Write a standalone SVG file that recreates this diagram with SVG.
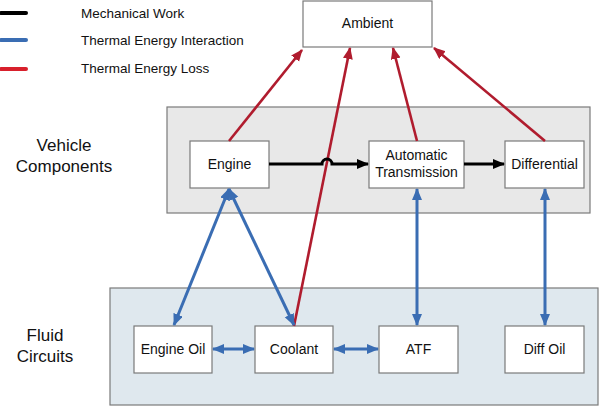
<svg xmlns="http://www.w3.org/2000/svg" width="601" height="406" viewBox="0 0 601 406">
<style>
text{font-family:"Liberation Sans",Arial,sans-serif;font-size:14px;fill:#111}
.leg{font-size:13.5px}
.lbl{font-size:17px}
.node rect{fill:#fff;stroke:#7a7a7a;stroke-width:1.2}
.blk{stroke:#000;stroke-width:3;fill:none}
.blu{stroke:#3a6db3;stroke-width:3;fill:none}
.red{stroke:#b01c2e;stroke-width:2.6;fill:none}
</style>
<defs>
<marker id="ak" markerUnits="userSpaceOnUse" markerWidth="12" markerHeight="11" refX="11" refY="5" orient="auto-start-reverse" viewBox="0 0 12 11"><path d="M0,0 L12,5 L0,10 z" fill="#000"/></marker>
<marker id="ab" markerUnits="userSpaceOnUse" markerWidth="12" markerHeight="11" refX="11" refY="5" orient="auto-start-reverse" viewBox="0 0 12 11"><path d="M0,0 L12,5 L0,10 z" fill="#3a6db3"/></marker>
<marker id="ar" markerUnits="userSpaceOnUse" markerWidth="12" markerHeight="11" refX="11" refY="5" orient="auto-start-reverse" viewBox="0 0 12 11"><path d="M0,0 L12,5 L0,10 z" fill="#b01c2e"/></marker>
</defs>
<rect width="601" height="406" fill="#fff"/>
<g id="legend">
<line x1="1" y1="13" x2="26" y2="13" stroke="#000" stroke-width="4" stroke-linecap="round"/>
<line x1="1" y1="40" x2="26" y2="40" stroke="#3a6db3" stroke-width="4" stroke-linecap="round"/>
<line x1="1" y1="69" x2="26" y2="69" stroke="#d8202c" stroke-width="4" stroke-linecap="round"/>
<text class="leg" x="81" y="18">Mechanical Work</text>
<text class="leg" x="81" y="45">Thermal Energy Interaction</text>
<text class="leg" x="81" y="73">Thermal Energy Loss</text>
</g>
<g id="vehicle-group">
<rect x="167" y="107" width="423" height="106" fill="#e8e8e8" stroke="#7a7a7a" stroke-width="1.2"/>
<text class="lbl" x="64" y="151" text-anchor="middle">Vehicle</text>
<text class="lbl" x="64" y="172" text-anchor="middle">Components</text>
</g>
<g id="fluid-group">
<rect x="110" y="288" width="488" height="117" fill="#dfe8ee" stroke="#7a7a7a" stroke-width="1.2"/>
<text class="lbl" x="45" y="341" text-anchor="middle">Fluid</text>
<text class="lbl" x="45" y="362" text-anchor="middle">Circuits</text>
</g>
<g id="ambient" class="node"><rect x="303" y="1" width="129" height="46"/><text x="367.5" y="28" text-anchor="middle">Ambient</text></g>
<g id="engine" class="node"><rect x="190" y="141" width="79" height="47"/><text x="229.5" y="169" text-anchor="middle">Engine</text></g>
<g id="transmission" class="node"><rect x="369" y="141" width="95" height="47"/><text x="416.5" y="160" text-anchor="middle">Automatic</text><text x="416.5" y="177" text-anchor="middle">Transmission</text></g>
<g id="differential" class="node"><rect x="505" y="141" width="79" height="47"/><text x="544.5" y="169" text-anchor="middle">Differential</text></g>
<g id="engine-oil" class="node"><rect x="134" y="326" width="78" height="47"/><text x="173" y="354" text-anchor="middle">Engine Oil</text></g>
<g id="coolant" class="node"><rect x="255" y="326" width="78" height="47"/><text x="294" y="354" text-anchor="middle">Coolant</text></g>
<g id="atf" class="node"><rect x="379" y="326" width="79" height="47"/><text x="418.5" y="354" text-anchor="middle">ATF</text></g>
<g id="diff-oil" class="node"><rect x="505" y="326" width="79" height="47"/><text x="544.5" y="354" text-anchor="middle">Diff Oil</text></g>
<g id="connectors">
<path class="red" d="M229,141 L302,50" marker-end="url(#ar)"/>
<path class="red" d="M294,326 L350,48" marker-end="url(#ar)"/>
<path class="red" d="M417,141 L393,48" marker-end="url(#ar)"/>
<path class="red" d="M545,141 L434,48" marker-end="url(#ar)"/>
<path class="blk" d="M269,164 L322,164 A5,5 0 0 1 332,164 L368,164" marker-end="url(#ak)"/>
<path class="blk" d="M464,164 L504,164" marker-end="url(#ak)"/>
<path class="blu" d="M229,189 L174,325" marker-start="url(#ab)" marker-end="url(#ab)"/>
<path class="blu" d="M229,189 L294,325" marker-start="url(#ab)" marker-end="url(#ab)"/>
<path class="blu" d="M417,189 L417,325" marker-start="url(#ab)" marker-end="url(#ab)"/>
<path class="blu" d="M545,189 L545,325" marker-start="url(#ab)" marker-end="url(#ab)"/>
<path class="blu" d="M213,349 L254,349" marker-start="url(#ab)" marker-end="url(#ab)"/>
<path class="blu" d="M334,349 L378,349" marker-start="url(#ab)" marker-end="url(#ab)"/>
</g>
</svg>
